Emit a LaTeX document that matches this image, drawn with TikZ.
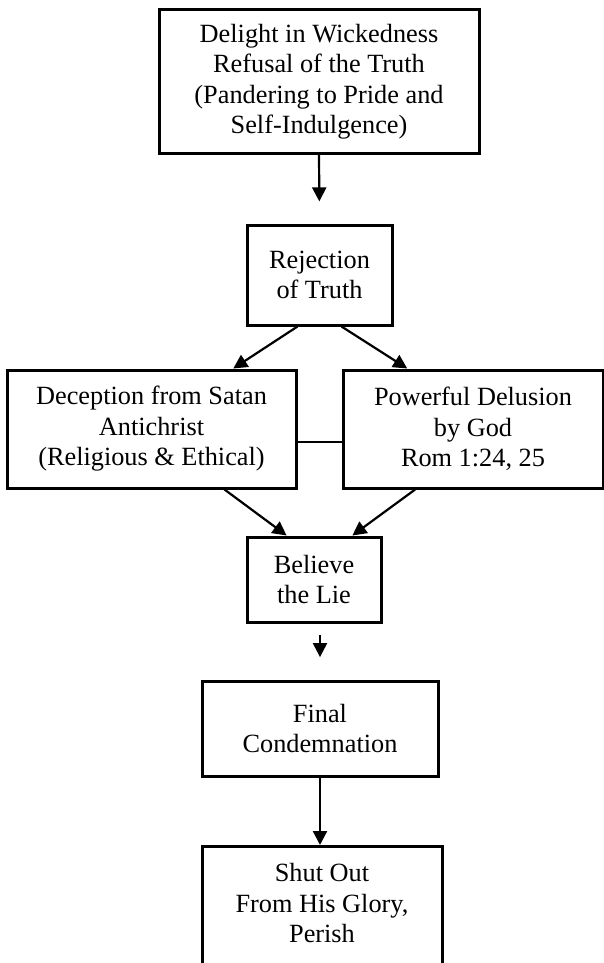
\documentclass[tikz,border=0pt]{standalone}
\usepackage{fontspec}
\setmainfont{Liberation Serif}
\usepackage{tikz}
\usetikzlibrary{arrows.meta,positioning,calc}

\begin{document}
\begin{tikzpicture}[
  x=1pt,y=1pt,
  box/.style={draw,line width=3pt,align=center,inner sep=0pt,font=\fontsize{26.3}{30.5}\selectfont},
  arr/.style={-{Triangle[length=14pt,width=14pt]},line width=2.2pt},
  link/.style={line width=1.5pt},
]
\useasboundingbox (0,0) rectangle (604,-963);

\node[box,minimum width=320,minimum height=143] (top) at (319,-81.5) {Delight in Wickedness\\Refusal of the Truth\\(Pandering to Pride and\\Self-Indulgence)};
\node[box,minimum width=145,minimum height=100] (rej) at (319.5,-275) {Rejection\\of Truth};
\node[box,minimum width=289,minimum height=118] (dec) at (151.5,-429) {Deception from Satan\\Antichrist\\(Religious \& Ethical)};
\node[box,minimum width=260,minimum height=118] (del) at (473,-429) {Powerful Delusion\\by God\\Rom 1:24, 25};
\node[box,minimum width=134,minimum height=85] (bel) at (314,-579.5) {Believe\\the Lie};
\node[box,minimum width=236,minimum height=95] (fin) at (320,-728.5) {Final\\Condemnation};
\node[box,minimum width=240,minimum height=150,anchor=north] (shut) at (322,-845) {Shut Out\\From His Glory,\\Perish\\[6pt]};

% flow
\draw[arr] (top.south) -- ($(top.south)!0.68!(rej.north)$);
\draw[arr] (dec.east |- rej.south) -- ($(dec.north west)!0.78!(dec.north east)$);
\draw[arr] (del.west |- rej.south) -- ($(del.north west)!0.25!(del.north east)$);
\draw[link] ([yshift=-13pt]dec.east) -- ([yshift=-13pt]del.west);
\draw[arr] ($(dec.south west)!0.75!(dec.south east)$) -- ($(bel.north west)!0.3!(bel.north east)$);
\draw[arr] ($(del.south west)!0.28!(del.south east)$) -- ($(bel.north west)!0.78!(bel.north east)$);
\draw[arr] ($(bel.south -| fin.north)!0.2!(fin.north)$) -- ($(bel.south -| fin.north)!0.6!(fin.north)$);
\draw[arr] (fin.south) -- (fin.south |- shut.north);
\end{tikzpicture}
\end{document}
